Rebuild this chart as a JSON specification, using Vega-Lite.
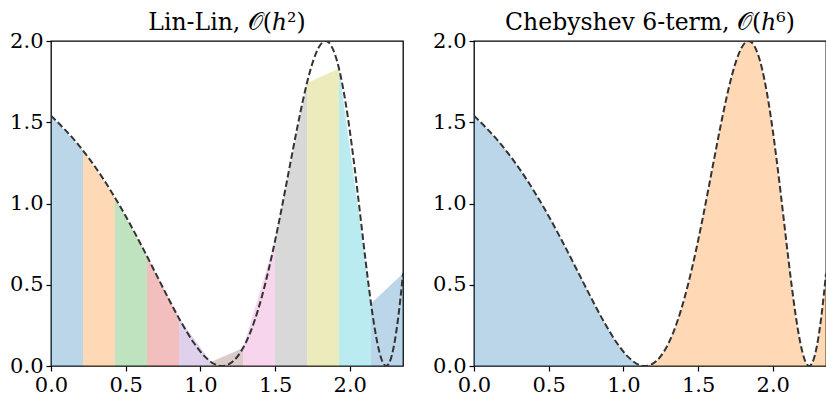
{
  "$schema": "https://vega.github.io/schema/vega-lite/v6.json",
  "background": "white",
  "padding": {"left": 8, "top": 9, "right": 0, "bottom": 0},
  "spacing": 27,
  "resolve": {"scale": {"color": "independent"}},
  "datasets": {
    "curve": [
      {"x": 0.0, "y": 1.54030},
      {"x": 0.18232, "y": 1.36236},
      {"x": 0.33647, "y": 1.16997},
      {"x": 0.47000, "y": 0.97080},
      {"x": 0.58779, "y": 0.77280},
      {"x": 0.69315, "y": 0.58385},
      {"x": 0.78846, "y": 0.41150},
      {"x": 0.87547, "y": 0.26261},
      {"x": 0.95551, "y": 0.14311},
      {"x": 1.02962, "y": 0.05778},
      {"x": 1.09861, "y": 0.01001},
      {"x": 1.14473, "y": 0.0},
      {"x": 1.16315, "y": 0.00171},
      {"x": 1.22378, "y": 0.03320},
      {"x": 1.28093, "y": 0.10324},
      {"x": 1.33500, "y": 0.20903},
      {"x": 1.38629, "y": 0.34636},
      {"x": 1.43508, "y": 0.50974},
      {"x": 1.48160, "y": 0.69267},
      {"x": 1.52606, "y": 0.88785},
      {"x": 1.56862, "y": 1.08750},
      {"x": 1.60944, "y": 1.28366},
      {"x": 1.64866, "y": 1.46852},
      {"x": 1.68640, "y": 1.63469},
      {"x": 1.72277, "y": 1.77557},
      {"x": 1.75786, "y": 1.88552},
      {"x": 1.79176, "y": 1.96017},
      {"x": 1.82455, "y": 1.99654},
      {"x": 1.83788, "y": 2.0},
      {"x": 1.85630, "y": 1.99318},
      {"x": 1.88707, "y": 1.95023},
      {"x": 1.91692, "y": 1.86939},
      {"x": 1.94591, "y": 1.75390},
      {"x": 1.97408, "y": 1.60835},
      {"x": 2.00148, "y": 1.43855},
      {"x": 2.02815, "y": 1.25127},
      {"x": 2.05412, "y": 1.05396},
      {"x": 2.07944, "y": 0.85450},
      {"x": 2.10413, "y": 0.66085},
      {"x": 2.12823, "y": 0.48071},
      {"x": 2.15176, "y": 0.32128},
      {"x": 2.17475, "y": 0.18891},
      {"x": 2.19722, "y": 0.08887},
      {"x": 2.21920, "y": 0.02516},
      {"x": 2.24071, "y": 0.00031},
      {"x": 2.24299, "y": 0.0},
      {"x": 2.26176, "y": 0.01532},
      {"x": 2.28238, "y": 0.06958},
      {"x": 2.30259, "y": 0.16093},
      {"x": 2.32239, "y": 0.28574},
      {"x": 2.34181, "y": 0.43960},
      {"x": 2.35619, "y": 0.56983}
    ],
    "cheb": [
      {"piece": "a", "x": 0.0, "y": 1.54030},
      {"piece": "a", "x": 0.18232, "y": 1.36236},
      {"piece": "a", "x": 0.33647, "y": 1.16997},
      {"piece": "a", "x": 0.47000, "y": 0.97080},
      {"piece": "a", "x": 0.58779, "y": 0.77280},
      {"piece": "a", "x": 0.69315, "y": 0.58385},
      {"piece": "a", "x": 0.78846, "y": 0.41150},
      {"piece": "a", "x": 0.87547, "y": 0.26261},
      {"piece": "a", "x": 0.95551, "y": 0.14311},
      {"piece": "a", "x": 1.02962, "y": 0.05778},
      {"piece": "a", "x": 1.09861, "y": 0.01001},
      {"piece": "a", "x": 1.14473, "y": 0.0},
      {"piece": "a", "x": 1.16315, "y": 0.00171},
      {"piece": "a", "x": 1.17810, "y": 0.00568},
      {"piece": "b", "x": 1.17810, "y": 0.00568},
      {"piece": "b", "x": 1.22378, "y": 0.03320},
      {"piece": "b", "x": 1.28093, "y": 0.10324},
      {"piece": "b", "x": 1.33500, "y": 0.20903},
      {"piece": "b", "x": 1.38629, "y": 0.34636},
      {"piece": "b", "x": 1.43508, "y": 0.50974},
      {"piece": "b", "x": 1.48160, "y": 0.69267},
      {"piece": "b", "x": 1.52606, "y": 0.88785},
      {"piece": "b", "x": 1.56862, "y": 1.08750},
      {"piece": "b", "x": 1.60944, "y": 1.28366},
      {"piece": "b", "x": 1.64866, "y": 1.46852},
      {"piece": "b", "x": 1.68640, "y": 1.63469},
      {"piece": "b", "x": 1.72277, "y": 1.77557},
      {"piece": "b", "x": 1.75786, "y": 1.88552},
      {"piece": "b", "x": 1.79176, "y": 1.96017},
      {"piece": "b", "x": 1.82455, "y": 1.99654},
      {"piece": "b", "x": 1.83788, "y": 2.0},
      {"piece": "b", "x": 1.85630, "y": 1.99318},
      {"piece": "b", "x": 1.88707, "y": 1.95023},
      {"piece": "b", "x": 1.91692, "y": 1.86939},
      {"piece": "b", "x": 1.94591, "y": 1.75390},
      {"piece": "b", "x": 1.97408, "y": 1.60835},
      {"piece": "b", "x": 2.00148, "y": 1.43855},
      {"piece": "b", "x": 2.02815, "y": 1.25127},
      {"piece": "b", "x": 2.05412, "y": 1.05396},
      {"piece": "b", "x": 2.07944, "y": 0.85450},
      {"piece": "b", "x": 2.10413, "y": 0.66085},
      {"piece": "b", "x": 2.12823, "y": 0.48071},
      {"piece": "b", "x": 2.15176, "y": 0.32128},
      {"piece": "b", "x": 2.17475, "y": 0.18891},
      {"piece": "b", "x": 2.19722, "y": 0.08887},
      {"piece": "b", "x": 2.21920, "y": 0.02516},
      {"piece": "b", "x": 2.24071, "y": 0.00031},
      {"piece": "b", "x": 2.24299, "y": 0.0},
      {"piece": "b", "x": 2.26176, "y": 0.01532},
      {"piece": "b", "x": 2.28238, "y": 0.06958},
      {"piece": "b", "x": 2.30259, "y": 0.16093},
      {"piece": "b", "x": 2.32239, "y": 0.28574},
      {"piece": "b", "x": 2.34181, "y": 0.43960},
      {"piece": "b", "x": 2.35619, "y": 0.56983}
    ],
    "linlin": [
      {"seg": "s00", "x": 0.0, "y": 1.540302},
      {"seg": "s00", "x": 0.214199, "y": 1.325866},
      {"seg": "s01", "x": 0.214199, "y": 1.325866},
      {"seg": "s01", "x": 0.428398, "y": 1.035992},
      {"seg": "s02", "x": 0.428398, "y": 1.035992},
      {"seg": "s02", "x": 0.642597, "y": 0.675386},
      {"seg": "s03", "x": 0.642597, "y": 0.675386},
      {"seg": "s03", "x": 0.856796, "y": 0.293319},
      {"seg": "s04", "x": 0.856796, "y": 0.293319},
      {"seg": "s04", "x": 1.070995, "y": 0.024834},
      {"seg": "s05", "x": 1.070995, "y": 0.024834},
      {"seg": "s05", "x": 1.285194, "y": 0.110139},
      {"seg": "s06", "x": 1.285194, "y": 0.110139},
      {"seg": "s06", "x": 1.499393, "y": 0.768613},
      {"seg": "s07", "x": 1.499393, "y": 0.768613},
      {"seg": "s07", "x": 1.713592, "y": 1.742211},
      {"seg": "s08", "x": 1.713592, "y": 1.742211},
      {"seg": "s08", "x": 1.927791, "y": 1.830345},
      {"seg": "s09", "x": 1.927791, "y": 1.830345},
      {"seg": "s09", "x": 2.14199, "y": 0.385111},
      {"seg": "s10", "x": 2.14199, "y": 0.385111},
      {"seg": "s10", "x": 2.356194, "y": 0.569826}
    ]
  },
  "hconcat": [
    {
      "width": 352,
      "height": 325,
      "title": {"text": "Lin-Lin, 𝒪(ℎ²)"},
      "layer": [
        {
          "data": {"name": "linlin"},
          "mark": {"type": "area", "clip": true, "fillOpacity": 0.3, "strokeOpacity": 0.3, "strokeWidth": 1},
          "encoding": {
            "x": {"field": "x", "type": "quantitative", "scale": {"domain": [0, 2.35619], "nice": false, "zero": false}, "axis": {"values": [0, 0.5, 1, 1.5, 2], "format": ".1f"}},
            "y": {"field": "y", "type": "quantitative", "stack": null, "scale": {"domain": [0, 2], "nice": false}, "axis": {"values": [0, 0.5, 1, 1.5, 2], "format": ".1f"}},
            "color": {"field": "seg", "type": "nominal", "legend": null,
              "scale": {"domain": ["s00","s01","s02","s03","s04","s05","s06","s07","s08","s09","s10"],
                        "range": ["#1f77b4","#ff7f0e","#2ca02c","#d62728","#9467bd","#8c564b","#e377c2","#7f7f7f","#bcbd22","#17becf","#1f77b4"]}}
          }
        },
        {
          "data": {"name": "curve"},
          "mark": {"type": "line", "clip": true, "color": "#333333", "strokeWidth": 2, "strokeDash": [6.5, 3], "interpolate": "monotone"},
          "encoding": {
            "x": {"field": "x", "type": "quantitative"},
            "y": {"field": "y", "type": "quantitative"},
            "order": {"field": "x", "type": "quantitative"}
          }
        }
      ]
    },
    {
      "width": 352,
      "height": 325,
      "title": {"text": "Chebyshev 6-term, 𝒪(ℎ⁶)"},
      "layer": [
        {
          "data": {"name": "cheb"},
          "mark": {"type": "area", "clip": true, "fillOpacity": 0.3, "strokeOpacity": 0.3, "strokeWidth": 1, "interpolate": "monotone"},
          "encoding": {
            "x": {"field": "x", "type": "quantitative", "scale": {"domain": [0, 2.35619], "nice": false, "zero": false}, "axis": {"values": [0, 0.5, 1, 1.5, 2], "format": ".1f"}},
            "y": {"field": "y", "type": "quantitative", "stack": null, "scale": {"domain": [0, 2], "nice": false}, "axis": {"values": [0, 0.5, 1, 1.5, 2], "format": ".1f"}},
            "color": {"field": "piece", "type": "nominal", "legend": null,
              "scale": {"domain": ["a", "b"], "range": ["#1f77b4", "#ff7f0e"]}}
          }
        },
        {
          "data": {"name": "curve"},
          "mark": {"type": "line", "clip": true, "color": "#333333", "strokeWidth": 2, "strokeDash": [6.5, 3], "interpolate": "monotone"},
          "encoding": {
            "x": {"field": "x", "type": "quantitative"},
            "y": {"field": "y", "type": "quantitative"},
            "order": {"field": "x", "type": "quantitative"}
          }
        }
      ]
    }
  ],
  "config": {
    "view": {"stroke": "black", "strokeWidth": 1.3},
    "axis": {
      "labelFont": "DejaVu Serif",
      "labelFontSize": 21,
      "labelColor": "black",
      "labelFlush": false,
      "labelOverlap": false,
      "tickColor": "black",
      "tickSize": 5,
      "tickWidth": 1.2,
      "labelPadding": 3,
      "domain": false,
      "grid": false,
      "title": null
    },
    "title": {
      "font": "DejaVu Serif",
      "fontSize": 23.5,
      "fontWeight": "normal",
      "color": "black",
      "frame": "group",
      "baseline": "alphabetic",
      "offset": -4
    }
  }
}
